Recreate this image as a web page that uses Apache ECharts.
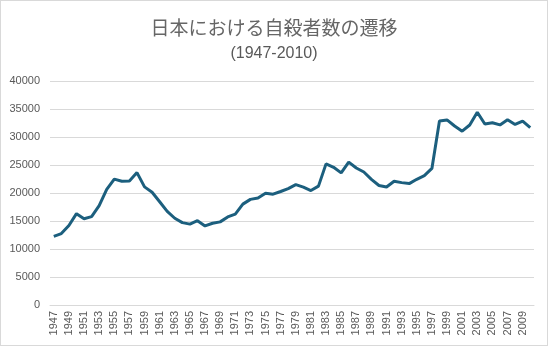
<!DOCTYPE html>
<html>
<head>
<meta charset="utf-8">
<script src="https://cdn.jsdelivr.net/npm/echarts@6/dist/echarts.min.js"></script>
<style>
  html, body { margin: 0; padding: 0; background: #fff; }
  #chart { width: 546px; height: 344px; border: 1px solid #d9d9d9; }
</style>
</head>
<body>
<div id="chart"></div>
<script>
// Annual suicide deaths in Japan, 1947-2010
const years = [];
for (let y = 1947; y <= 2010; y++) years.push(String(y));

const suicides = [
  12262, 12753, 14201, 16311, 15415, 15776, 17731, 20635, 22477, 22107,
  22136, 23641, 21090, 20143, 18446, 16724, 15490, 14707, 14444, 15050,
  14121, 14601, 14844, 15728, 16239, 18015, 18859, 19105, 19975, 19786,
  20269, 20788, 21503, 21048, 20434, 21228, 25202, 24596, 23599, 25524,
  24460, 23742, 22436, 21346, 21084, 22104, 21851, 21679, 22445, 23104,
  24391, 32863, 33048, 31957, 31042, 32143, 34427, 32325, 32552, 32155,
  33093, 32249, 32845, 31690
];

const titleText = '日本における自殺者数の遷移';
const subtitleText = '(1947-2010)';

const chart = echarts.init(document.getElementById('chart'));
chart.setOption({
  animation: false,
  title: {
    text: titleText,
    subtext: subtitleText,
    left: 'center',
    top: 12,
    itemGap: 9,
    textStyle: { fontFamily: 'Noto Sans CJK JP', fontSize: 19, fontWeight: 'normal', color: '#666666' },
    subtextStyle: { fontFamily: 'Liberation Sans', fontSize: 16, color: '#595959' }
  },
  grid: { left: 49, right: 13, top: 80, bottom: 40 },
  xAxis: {
    type: 'category',
    data: years,
    boundaryGap: true,
    axisLine: { lineStyle: { color: '#d9d9d9' } },
    axisTick: { show: false },
    axisLabel: {
      interval: 1,
      rotate: 90,
      color: '#595959',
      fontFamily: 'Liberation Sans',
      fontSize: 11,
      margin: 6
    }
  },
  yAxis: {
    type: 'value',
    min: 0,
    max: 40000,
    interval: 5000,
    axisLine: { show: false },
    axisTick: { show: false },
    splitLine: { lineStyle: { color: '#d9d9d9' } },
    axisLabel: {
      color: '#595959',
      fontFamily: 'Liberation Sans',
      fontSize: 11,
      margin: 10,
      formatter: v => String(v)
    }
  },
  series: [{
    type: 'line',
    data: suicides,
    symbol: 'none',
    lineStyle: { color: '#1c5f7e', width: 3 },
    itemStyle: { color: '#1c5f7e' }
  }]
});
</script>
</body>
</html>
